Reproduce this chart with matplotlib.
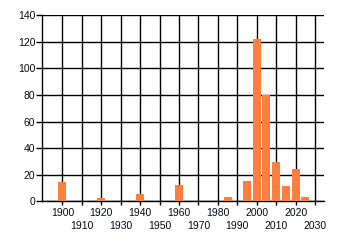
import matplotlib
matplotlib.use("Agg")
from matplotlib import pyplot as plt
from matplotlib.ticker import FixedLocator

# Counts per 5-year bin
years = [1900, 1920, 1940, 1960, 1985, 1995, 2000, 2005, 2010, 2015, 2020, 2025]
counts = [14.5, 2.5, 5.5, 12, 3, 15, 122, 80, 29.5, 11.5, 24, 3]

major_years = [1900, 1920, 1940, 1960, 1980, 2000, 2020]
minor_years = [1910, 1930, 1950, 1970, 1990, 2010, 2030]
y_ticks = [0, 20, 40, 60, 80, 100, 120, 140]

plt.rcParams["font.family"] = ["Liberation Sans", "DejaVu Sans"]

fig = plt.figure(figsize=(3.4, 2.45), dpi=100)
ax = fig.add_axes([0.1245, 0.178, 0.8285, 0.7596])

ax.bar(years, counts, width=4.1, color="#ff7f40", zorder=3)

ax.set_xlim(1889.7, 2034.6)
ax.set_ylim(0, 140)

ax.xaxis.set_major_locator(FixedLocator(major_years))
ax.xaxis.set_minor_locator(FixedLocator(minor_years))
ax.set_xticklabels([str(y) for y in major_years])
ax.set_xticklabels([str(y) for y in minor_years], minor=True)
ax.set_yticks(y_ticks)

ax.tick_params(axis="x", which="major", length=3, width=1, pad=2,
               labelsize=7.5, labelcolor="#0a0a1a")
ax.tick_params(axis="x", which="minor", length=3, width=1, pad=11,
               labelsize=7.5, labelcolor="#0a0a1a")
ax.tick_params(axis="y", length=4, width=1, pad=1,
               labelsize=7.5, labelcolor="#0a0a1a")

ax.grid(True, which="both", axis="x", color="black", linewidth=1)
ax.grid(True, axis="y", color="black", linewidth=1)
ax.set_axisbelow(True)

for side in ["top", "right"]:
    ax.spines[side].set_visible(False)
for side in ["left", "bottom"]:
    ax.spines[side].set_linewidth(1)

fig.savefig("out.png", dpi=100)
plt.close(fig)
